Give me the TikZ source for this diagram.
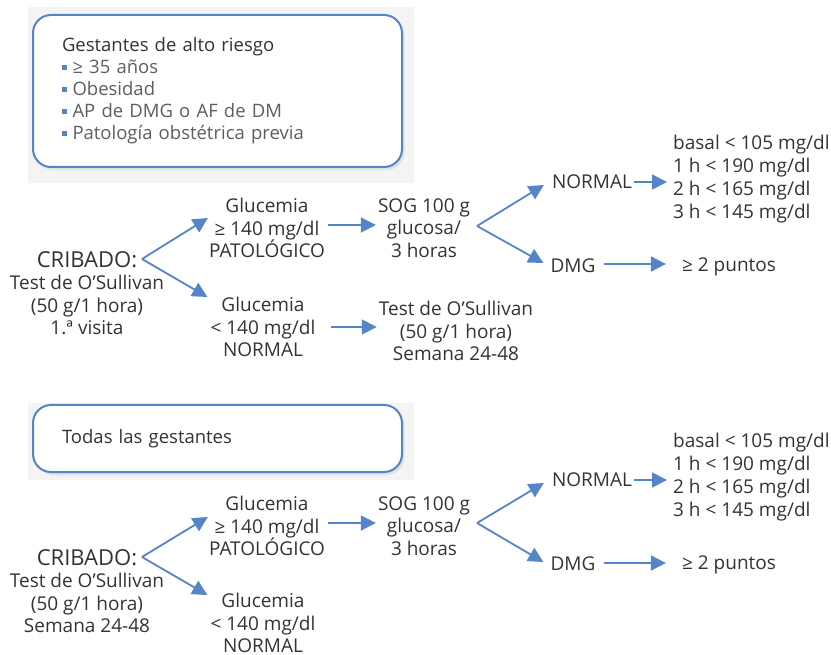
\documentclass[tikz,border=0pt]{standalone}
\usepackage{fontspec}
\setmainfont{Open Sans}
\usetikzlibrary{arrows.meta, positioning, calc, shadows}

\definecolor{ink}{HTML}{333333}
\definecolor{itemgray}{HTML}{5E5E5E}
\definecolor{flowblue}{HTML}{5585C6}
\definecolor{panelgray}{HTML}{F4F4F4}

\newcommand{\sqbullet}{\textcolor{flowblue}{\rule[0.22em]{4.5pt}{4.5pt}}\hspace{6pt}}

\begin{document}
\begin{tikzpicture}[
    x=1pt, y=-1pt,
    >={Triangle[length=15pt, width=15pt]},
    flow/.style={->, draw=flowblue, line width=1.8pt},
    txt/.style={align=center, inner sep=0pt, text=ink, font=\fontsize{19}{22.5}\selectfont},
    vals/.style={align=left, anchor=west, inner sep=0pt, text=ink, font=\fontsize{19}{23}\selectfont},
    panel/.style={fill=panelgray, draw=none},
    infobox/.style={draw=flowblue, line width=2pt, fill=white, rounded corners=18pt, minimum width=369pt,
        align=left, inner xsep=29pt, text=ink, font=\fontsize{18.5}{22}\selectfont,
        drop shadow={opacity=0.18, fill=black!45, shadow xshift=2.5pt, shadow yshift=-3pt}}
]
\useasboundingbox (0,0) rectangle (831,655);

% -------------------------------------------------------------------------
% Top block: high risk pregnancies
% -------------------------------------------------------------------------

% grey panel behind the box
\fill[panel] (28,7) rectangle (414,183);
\node[infobox, minimum height=152pt, text width=311pt] (riskbox) at (217.5,91) {Gestantes de alto riesgo\\
    {\color{itemgray}\sqbullet ≥ 35 años}\\
    {\color{itemgray}\sqbullet Obesidad}\\
    {\color{itemgray}\sqbullet AP de DMG o AF de DM}\\
    {\color{itemgray}\sqbullet Patología obstétrica previa}};

% Screening column (x = 87)
\node[txt] (cribA) at (87,293) {{\fontsize{22}{25}\selectfont CRIBADO:}\\ Test de O’Sullivan\\ (50 g/1 hora)\\ 1.ª visita};
\coordinate (forkA) at (142,259);

% Glucemia column (x = 265)
\node[txt] (glucApat) at (267,228) {Glucemia\\ ≥ 140 mg/dl\\ PATOLÓGICO};
\node[txt] (glucAnor) at (263,327) {Glucemia\\ < 140 mg/dl\\ NORMAL};

% Second test column (x = 440)
\node[txt] (sogA) at (424,228) {SOG 100 g\\ glucosa/\\ 3 horas};
\node[txt] (testA) at (456,331) {Test de O’Sullivan\\ (50 g/1 hora)\\ Semana 24-48};
\coordinate (forkB) at (477,226);

% Results column
\node[txt] (normA) at (592,182) {NORMAL};
\node[txt] (dmgA) at (573,266) {DMG};
\node[vals] (valsA) at (673,179) {basal < 105 mg/dl\\ 1 h < 190 mg/dl\\ 2 h < 165 mg/dl\\ 3 h < 145 mg/dl};
\node[txt] (ptsA) at (729,267) {≥ 2 puntos};

% arrows
\draw[flow] (forkA) -- ([shift={(-1pt,10pt)}]glucApat.west);
\draw[flow] (forkA) -- ([shift={(-3pt,30pt)}]glucAnor.west);
\draw[flow] ([shift={(3pt,3pt)}]glucApat.east) -- ($(glucApat.east -| sogA.west)+(-2pt,3pt)$);
\draw[flow] ([xshift=15pt]glucAnor.east) -- ($(glucAnor.east -| testA.west)+(-2pt,0)$);
\draw[flow] (forkB) -- ([shift={(-8pt,-3pt)}]normA.west);
\draw[flow] (forkB) -- ([shift={(-7pt,3pt)}]dmgA.west);
\draw[flow] ([xshift=2pt]normA.east) -- ($(normA.east -| valsA.west)+(-6pt,0)$);
\draw[flow] ([shift={(8pt,2pt)}]dmgA.east) -- ($(dmgA.east -| ptsA.west)+(-16pt,2pt)$);

% -------------------------------------------------------------------------
% Bottom block: all pregnancies
% -------------------------------------------------------------------------

\fill[panel] (28,403) rectangle (414,480);
\node[infobox, minimum height=67pt, text width=311pt] (allbox) at (217.5,438.5) {Todas las gestantes};

\node[txt] (cribB) at (87,591) {{\fontsize{22}{25}\selectfont CRIBADO:}\\ Test de O’Sullivan\\ (50 g/1 hora)\\ Semana 24-48};
\coordinate (forkC) at (142,557);

\node[txt] (glucBpat) at (267,526) {Glucemia\\ ≥ 140 mg/dl\\ PATOLÓGICO};
\node[txt] (glucBnor) at (263,623) {Glucemia\\ < 140 mg/dl\\ NORMAL};

\node[txt] (sogB) at (424,526) {SOG 100 g\\ glucosa/\\ 3 horas};
\coordinate (forkD) at (477,523);

\node[txt] (normB) at (592,480) {NORMAL};
\node[txt] (dmgB) at (573,564) {DMG};
\node[vals] (valsB) at (673,477) {basal < 105 mg/dl\\ 1 h < 190 mg/dl\\ 2 h < 165 mg/dl\\ 3 h < 145 mg/dl};
\node[txt] (ptsB) at (729,565) {≥ 2 puntos};

% arrows
\draw[flow] (forkC) -- ([shift={(-1pt,9pt)}]glucBpat.west);
\draw[flow] (forkC) -- ([shift={(-3pt,28pt)}]glucBnor.west);
\draw[flow] ([shift={(3pt,3pt)}]glucBpat.east) -- ($(glucBpat.east -| sogB.west)+(-2pt,3pt)$);
\draw[flow] (forkD) -- ([shift={(-8pt,-3pt)}]normB.west);
\draw[flow] (forkD) -- ([shift={(-7pt,2pt)}]dmgB.west);
\draw[flow] ([xshift=2pt]normB.east) -- ($(normB.east -| valsB.west)+(-6pt,0)$);
\draw[flow] ([shift={(8pt,1pt)}]dmgB.east) -- ($(dmgB.east -| ptsB.west)+(-16pt,1pt)$);

\end{tikzpicture}
\end{document}
